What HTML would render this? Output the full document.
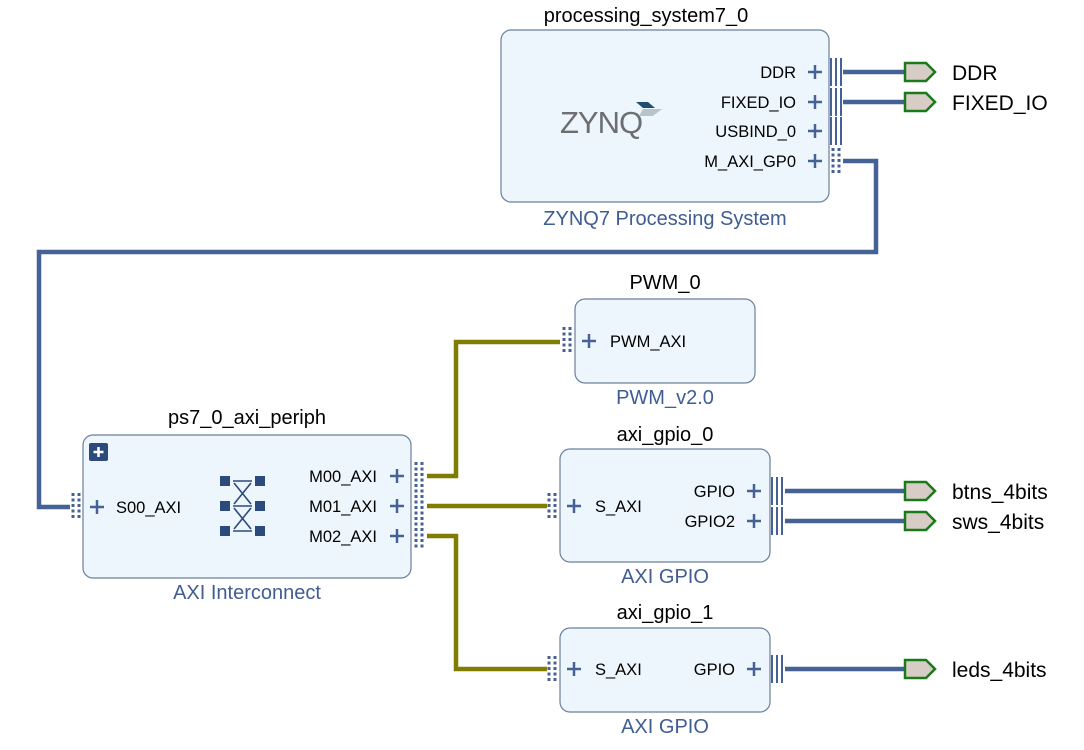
<!DOCTYPE html>
<html><head><meta charset="utf-8"><style>
html,body{margin:0;padding:0;background:#fff;}
svg{display:block;font-family:"Liberation Sans","DejaVu Sans",sans-serif;}
.blk{fill:#eef6fd;stroke:#6b7f9c;stroke-width:1.2;}
.t{font-size:20px;fill:#000;text-anchor:middle;}
.s{font-size:20px;fill:#3f5d93;text-anchor:middle;}
.p{font-size:16.5px;fill:#000;}
.bl{stroke:#456196;stroke-width:4.5;fill:none;}
.ol{stroke:#807c00;stroke-width:4.5;fill:none;}
.pl{stroke:#456196;stroke-width:2.5;}
.bar{stroke:#456196;stroke-width:2;}
.dot{stroke:#456196;stroke-width:3;stroke-dasharray:3,2.5;}
.ext{fill:#d8cdc6;stroke:#1a7a1a;stroke-width:2.5;}
.el{font-size:21px;fill:#000;}
</style></head><body>
<svg width="1084" height="750" viewBox="0 0 1084 750">
<path class="bl" d="M843 72H905M843 102H905M785 491H905M785 521H905M785 669H905"/>
<path class="bl" d="M843 161H876V252H39V507H70"/>
<path class="ol" d="M427 476H456V342H560M427 506H547M427 536H456V669H547"/>
<g class="ext">
<path d="M905 63h21l9 9l-9 9h-21z"/>
<path d="M905 93h21l9 9l-9 9h-21z"/>
<path d="M905 482h21l9 9l-9 9h-21z"/>
<path d="M905 512h21l9 9l-9 9h-21z"/>
<path d="M905 660h21l9 9l-9 9h-21z"/>
</g>
<text class="el" x="952" y="80">DDR</text>
<text class="el" x="952" y="110">FIXED_IO</text>
<text class="el" x="952" y="499">btns_4bits</text>
<text class="el" x="952" y="529">sws_4bits</text>
<text class="el" x="952" y="677">leds_4bits</text>

<text class="t" x="646" y="22">processing_system7_0</text>
<rect class="blk" x="501" y="30" width="328" height="172" rx="10"/>
<text class="s" x="665" y="225">ZYNQ7 Processing System</text>
<text x="560" y="133" style="font-size:31px;fill:#6d6e71;font-family:'Liberation Sans',sans-serif;letter-spacing:-1px">ZYNQ</text>
<path d="M636 102h12l7 6h-12z" fill="#1f4e6e"/><path d="M643 109h19l-9 7h-14z" fill="#b9c3cc"/>
<g class="p" text-anchor="end">
<text x="796" y="78">DDR</text><text x="796" y="108">FIXED_IO</text>
<text x="796" y="137">USBIND_0</text><text x="796" y="167">M_AXI_GP0</text>
</g>
<g class="pl">
<path d="M808 72h14M815 65v14M808 102h14M815 95v14M808 131h14M815 124v14M808 161h14M815 154v14"/>
</g>
<g class="bar">
<path d="M831 58v28M836 58v28M841 58v28M831 88v28M836 88v28M841 88v28M831 117v28M836 117v28M841 117v28"/>
</g>
<path class="dot" d="M833 148v27M839 148v27"/>

<text class="t" x="247" y="424">ps7_0_axi_periph</text>
<rect class="blk" x="83" y="435" width="328" height="143" rx="10"/>
<text class="s" x="247" y="599">AXI Interconnect</text>
<rect x="89" y="443" width="19" height="18" rx="2" fill="#2c4a7c"/>
<path d="M98.5 447v10M93.5 452h10" stroke="#fff" stroke-width="2.5"/>
<path class="dot" d="M73 493v27M79 493v27"/>
<path class="pl" d="M90 507h14M97 500v14"/>
<text class="p" x="116" y="513">S00_AXI</text>
<g fill="#2c4a7c">
<rect x="220" y="476" width="10" height="10"/><rect x="255" y="476" width="10" height="10"/>
<rect x="220" y="501" width="10" height="10"/><rect x="255" y="501" width="10" height="10"/>
<rect x="220" y="526" width="10" height="10"/><rect x="255" y="526" width="10" height="10"/>
</g>
<path d="M233 481h19M233 506h19M233 531h19M234 483l17 21M251 483l-17 21M234 508l17 21M251 508l-17 21" stroke="#2c4a7c" stroke-width="1.6"/>
<g class="p" text-anchor="end">
<text x="377" y="482">M00_AXI</text><text x="377" y="512">M01_AXI</text><text x="377" y="542">M02_AXI</text>
</g>
<path class="pl" d="M390 476h14M397 469v14M390 506h14M397 499v14M390 536h14M397 529v14"/>
<path class="dot" d="M416 462v87M422 462v87"/>

<text class="t" x="665" y="289">PWM_0</text>
<rect class="blk" x="575" y="299" width="180" height="84" rx="10"/>
<text class="s" x="665" y="404">PWM_v2.0</text>
<path class="dot" d="M564 327v27M570 327v27"/>
<path class="pl" d="M582 341h14M589 334v14"/>
<text class="p" x="610" y="347">PWM_AXI</text>

<text class="t" x="665" y="441">axi_gpio_0</text>
<rect class="blk" x="560" y="449" width="210" height="113" rx="10"/>
<text class="s" x="665" y="583">AXI GPIO</text>
<path class="dot" d="M549 493v27M555 493v27"/>
<path class="pl" d="M567 506h14M574 499v14"/>
<text class="p" x="595" y="512">S_AXI</text>
<g class="p" text-anchor="end"><text x="735" y="497">GPIO</text><text x="735" y="527">GPIO2</text></g>
<path class="pl" d="M747 491h14M754 484v14M747 521h14M754 514v14"/>
<path class="bar" d="M772 477v28M777 477v28M782 477v28M772 507v28M777 507v28M782 507v28"/>

<text class="t" x="665" y="619">axi_gpio_1</text>
<rect class="blk" x="560" y="628" width="210" height="84" rx="10"/>
<text class="s" x="665" y="733">AXI GPIO</text>
<path class="dot" d="M549 656v27M555 656v27"/>
<path class="pl" d="M567 669h14M574 662v14"/>
<text class="p" x="595" y="675">S_AXI</text>
<text class="p" x="735" y="675" text-anchor="end">GPIO</text>
<path class="pl" d="M747 669h14M754 662v14"/>
<path class="bar" d="M772 655v28M777 655v28M782 655v28"/>
</svg>
</body></html>
